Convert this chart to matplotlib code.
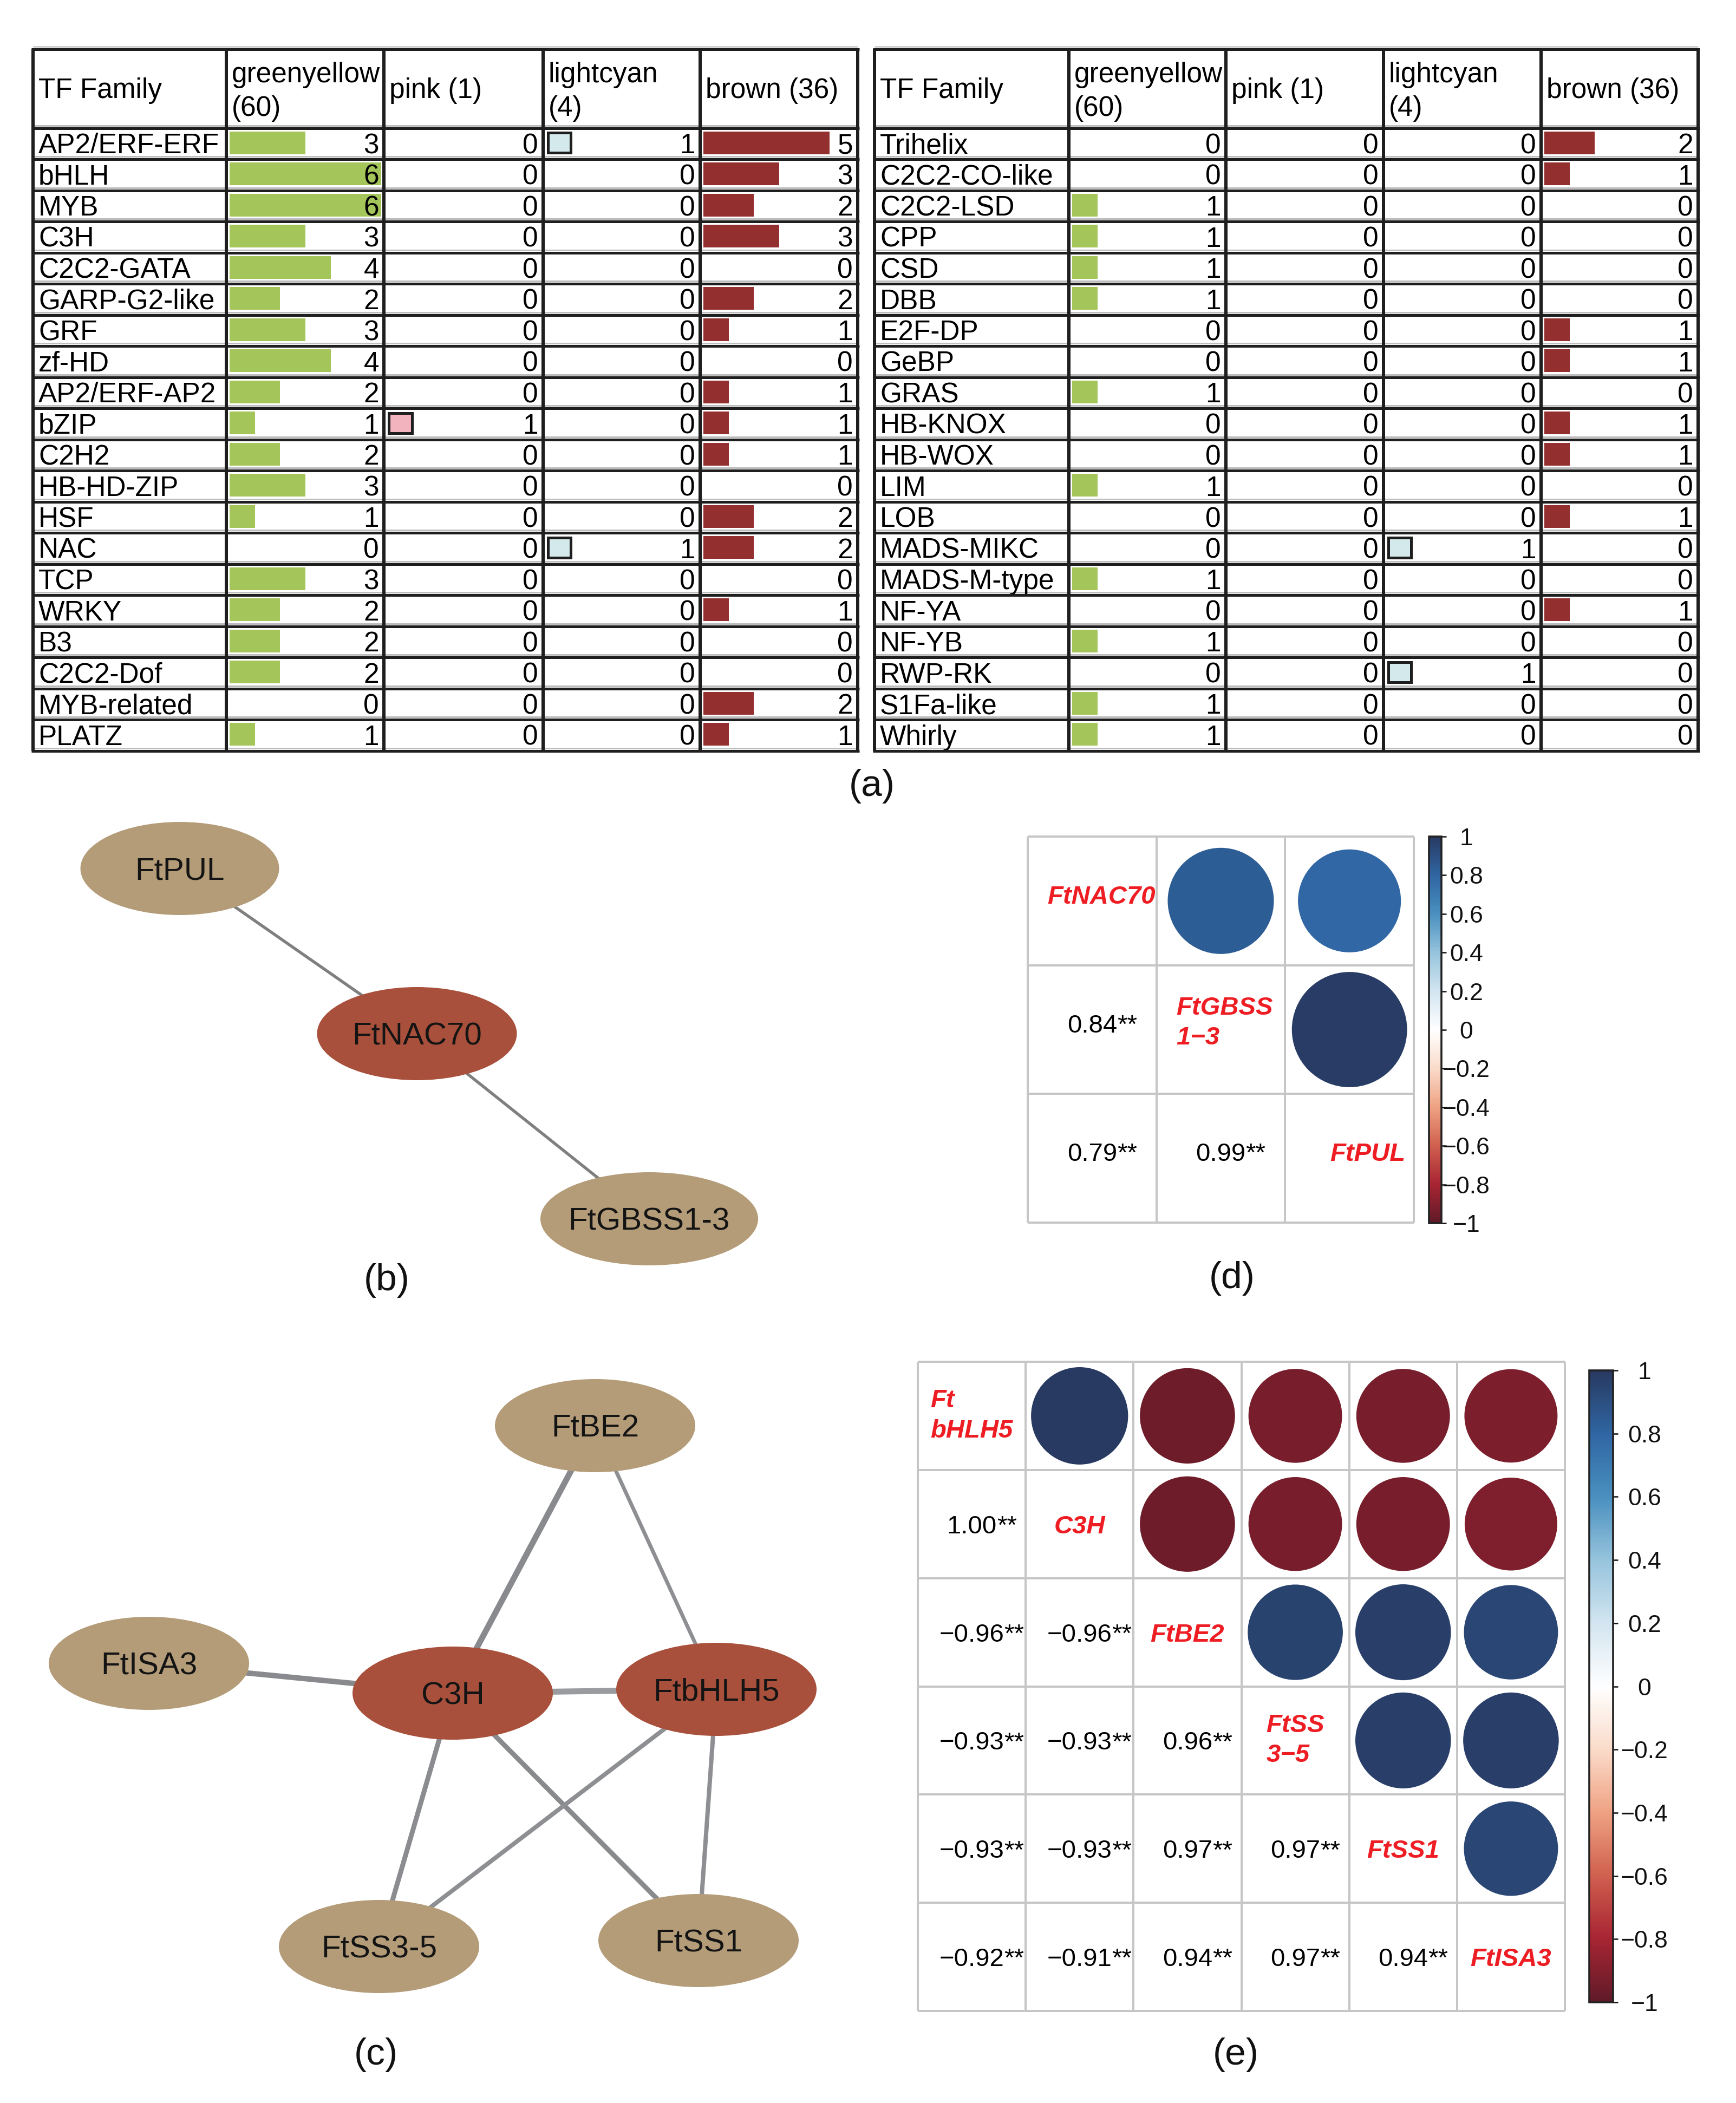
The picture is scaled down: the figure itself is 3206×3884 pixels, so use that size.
import numpy as np
import matplotlib
matplotlib.use("Agg")
import matplotlib.pyplot as plt
from matplotlib.patches import Ellipse, Circle
from matplotlib.colors import LinearSegmentedColormap, Normalize
from matplotlib.cm import ScalarMappable

plt.rcParams['font.family'] = ['Liberation Sans', 'DejaVu Sans']

# ----------------------------- data -----------------------------
table_headers = ['TF Family', 'greenyellow\n(60)', 'pink (1)', 'lightcyan\n(4)', 'brown (36)']

left_families = ['AP2/ERF-ERF', 'bHLH', 'MYB', 'C3H', 'C2C2-GATA', 'GARP-G2-like', 'GRF',
                 'zf-HD', 'AP2/ERF-AP2', 'bZIP', 'C2H2', 'HB-HD-ZIP', 'HSF', 'NAC', 'TCP',
                 'WRKY', 'B3', 'C2C2-Dof', 'MYB-related', 'PLATZ']
left_greenyellow = [3, 6, 6, 3, 4, 2, 3, 4, 2, 1, 2, 3, 1, 0, 3, 2, 2, 2, 0, 1]
left_pink        = [0, 0, 0, 0, 0, 0, 0, 0, 0, 1, 0, 0, 0, 0, 0, 0, 0, 0, 0, 0]
left_lightcyan   = [1, 0, 0, 0, 0, 0, 0, 0, 0, 0, 0, 0, 0, 1, 0, 0, 0, 0, 0, 0]
left_brown       = [5, 3, 2, 3, 0, 2, 1, 0, 1, 1, 1, 0, 2, 2, 0, 1, 0, 0, 2, 1]

right_families = ['Trihelix', 'C2C2-CO-like', 'C2C2-LSD', 'CPP', 'CSD', 'DBB', 'E2F-DP', 'GeBP',
                  'GRAS', 'HB-KNOX', 'HB-WOX', 'LIM', 'LOB', 'MADS-MIKC', 'MADS-M-type',
                  'NF-YA', 'NF-YB', 'RWP-RK', 'S1Fa-like', 'Whirly']
right_greenyellow = [0, 0, 1, 1, 1, 1, 0, 0, 1, 0, 0, 1, 0, 0, 1, 0, 1, 0, 1, 1]
right_pink        = [0, 0, 0, 0, 0, 0, 0, 0, 0, 0, 0, 0, 0, 0, 0, 0, 0, 0, 0, 0]
right_lightcyan   = [0, 0, 0, 0, 0, 0, 0, 0, 0, 0, 0, 0, 0, 1, 0, 0, 0, 1, 0, 0]
right_brown       = [2, 1, 0, 0, 0, 0, 1, 1, 0, 1, 1, 0, 1, 0, 0, 1, 0, 0, 0, 0]

net_b_nodes = ['FtPUL', 'FtNAC70', 'FtGBSS1-3']
net_b_tfs = ['FtNAC70']
net_b_edges = [('FtPUL', 'FtNAC70'), ('FtNAC70', 'FtGBSS1-3')]

net_c_nodes = ['FtBE2', 'FtISA3', 'C3H', 'FtbHLH5', 'FtSS3-5', 'FtSS1']
net_c_tfs = ['C3H', 'FtbHLH5']
net_c_edges = [('FtBE2', 'C3H'), ('FtBE2', 'FtbHLH5'), ('FtISA3', 'C3H'), ('C3H', 'FtbHLH5'),
               ('C3H', 'FtSS3-5'), ('C3H', 'FtSS1'), ('FtbHLH5', 'FtSS3-5'), ('FtbHLH5', 'FtSS1')]

corr_d_labels = ['FtNAC70', 'FtGBSS\n1\u22123', 'FtPUL']
corr_d_values = [[1.00, 0.84, 0.79],
                 [0.84, 1.00, 0.99],
                 [0.79, 0.99, 1.00]]

corr_e_labels = ['Ft\nbHLH5', 'C3H', 'FtBE2', 'FtSS\n3\u22125', 'FtSS1', 'FtISA3']
corr_e_values = [[1.00, 1.00, -0.96, -0.93, -0.93, -0.92],
                 [1.00, 1.00, -0.96, -0.93, -0.93, -0.91],
                 [-0.96, -0.96, 1.00, 0.96, 0.97, 0.94],
                 [-0.93, -0.93, 0.96, 1.00, 0.97, 0.97],
                 [-0.93, -0.93, 0.97, 0.97, 1.00, 0.94],
                 [-0.92, -0.91, 0.94, 0.97, 0.94, 1.00]]

colorbar_ticks = [-1.0, -0.8, -0.6, -0.4, -0.2, 0.0, 0.2, 0.4, 0.6, 0.8, 1.0]

# ----------------------------- style / layout -----------------------------
W, H = 3206, 3884
DPI = 200
PT = 72.0 / DPI              # points per pixel
FS_TAB = 18.5
FS_NODE = 21
FS_CORR = 17
FS_CB = 16
FS_PANEL = 25

def px(pt):
    return pt / PT

GREEN = '#A3C55A'
BROWN = '#942F2F'
PINK = '#F2B3BF'
LCYAN = '#D3E9EC'
TAN = '#B49C79'
TFRED = '#A8503B'
LABRED = '#EE1D23'
LINE = '#1E1E1E'

corr_cmap = LinearSegmentedColormap.from_list(
    'corr', ['#601A28', '#A82533', '#D0604F', '#EFA283', '#FADBCA', '#FFFFFF',
             '#D3E5F0', '#96C4DD', '#4A90BF', '#2F66A3', '#283A62'], N=256)
corr_norm = Normalize(-1, 1)

fig = plt.figure(figsize=(W / DPI, H / DPI), dpi=DPI)
canvas = fig.add_axes([0, 0, 1, 1])
canvas.set_xlim(0, W)
canvas.set_ylim(H, 0)
canvas.axis('off')


def px_rect(x0, y0, x1, y1):
    return [x0 / W, 1 - y1 / H, (x1 - x0) / W, (y1 - y0) / H]


# ----------------------------- tables (a) -----------------------------
TAB_TOP, TAB_HEAD, ROW_H = 91, 237, 57.5


def draw_table(ax, col_edges, families, columns):
    n = len(families)
    row_tops = TAB_HEAD + ROW_H * np.arange(n)
    y_bot = TAB_HEAD + ROW_H * n
    cap = 0.358 * px(FS_TAB)
    fills = [GREEN, PINK, LCYAN, BROWN]
    boxed = [False, True, True, False]
    for k, vals in enumerate(columns):
        cl, cr = col_edges[k + 1], col_edges[k + 2]
        unit = (cr - cl - 11) / 6.0
        v = np.asarray(vals, float)
        m = v > 0
        if boxed[k]:
            ax.barh(row_tops[m] + 27, v[m] * unit - 4, left=cl + 8.5, height=37,
                    color=fills[k], edgecolor=LINE, linewidth=5 * PT, zorder=2)
        else:
            ax.barh(row_tops[m] + 27, v[m] * unit, left=cl + 6, height=42,
                    color=fills[k], linewidth=0, zorder=2)
        for rt, val in zip(row_tops, vals):
            ax.text(cr - 9, rt + ROW_H / 2 + cap - 1, str(val), ha='right', va='baseline',
                    fontsize=FS_TAB, zorder=4)
    for rt, fam in zip(row_tops, families):
        ax.text(col_edges[0] + 10, rt + ROW_H / 2 + cap - 1, fam, ha='left', va='baseline',
                fontsize=FS_TAB, zorder=4)
    for k, hdr in enumerate(table_headers):
        lines = hdr.split('\n')
        bases = [181] if len(lines) == 1 else [152, 214]
        for ln, b in zip(lines, bases):
            ax.text(col_edges[k] + 10, b, ln, ha='left', va='baseline', fontsize=FS_TAB, zorder=4)
    hys = [TAB_TOP, TAB_HEAD] + list(row_tops[1:]) + [y_bot]
    ax.hlines([TAB_TOP - 5], col_edges[0], col_edges[-1], colors='#CFCFCF', lw=3 * PT, zorder=3)
    ax.hlines(np.array(hys[1:]) - 5, col_edges[0], col_edges[-1], colors='#BDBDBD',
              lw=3 * PT, zorder=3)
    ax.hlines(hys, col_edges[0] - 3, col_edges[-1] + 3, colors=LINE, lw=5 * PT, zorder=5)
    ax.vlines(col_edges, TAB_TOP, y_bot, colors=LINE, lw=6 * PT, zorder=5)


draw_table(canvas, [61, 418, 709, 1003, 1293, 1584], left_families,
           [left_greenyellow, left_pink, left_lightcyan, left_brown])
draw_table(canvas, [1615, 1974, 2264, 2555, 2846, 3136], right_families,
           [right_greenyellow, right_pink, right_lightcyan, right_brown])

# ----------------------------- networks (b), (c) -----------------------------
def draw_network(ax, nodes, tfs, edges, pos, sizes, edge_w, edge_c):
    for (a, b), w, c in zip(edges, edge_w, edge_c):
        ax.plot([pos[a][0], pos[b][0]], [pos[a][1], pos[b][1]], color=c, lw=w * PT,
                zorder=1, solid_capstyle='butt')
    cap = 0.358 * px(FS_NODE)
    for nd in nodes:
        w, h = sizes[nd]
        ax.add_patch(Ellipse(pos[nd], w, h, facecolor=TFRED if nd in tfs else TAN,
                             edgecolor='none', zorder=2))
        ax.text(pos[nd][0], pos[nd][1] + cap, nd, ha='center', va='baseline',
                fontsize=FS_NODE, color='#141414', zorder=3)


pos_b = {'FtPUL': (332, 1604), 'FtNAC70': (770, 1909), 'FtGBSS1-3': (1199, 2251)}
size_b = {'FtPUL': (367, 172), 'FtNAC70': (369, 172), 'FtGBSS1-3': (402, 172)}
draw_network(canvas, net_b_nodes, net_b_tfs, net_b_edges, pos_b, size_b,
             [5.5, 5.5], ['#7F7F7F', '#7F7F7F'])

pos_c = {'FtBE2': (1099, 2633), 'FtISA3': (275, 3072), 'C3H': (836, 3127),
         'FtbHLH5': (1323, 3120), 'FtSS3-5': (700, 3595), 'FtSS1': (1290, 3584)}
size_c = {k: (370, 172) for k in pos_c}
draw_network(canvas, net_c_nodes, net_c_tfs, net_c_edges, pos_c, size_c,
             [11, 7, 10, 11, 9, 9, 8, 8],
             ['#898A8D', '#8E8F92', '#898A8D', '#9A9B9E', '#8B8C8F', '#898A8D',
              '#8E8F92', '#8E8F92'])

# ----------------------------- correlation plots (d), (e) -----------------------------
def fmt_tick(t):
    t = round(t, 1)
    if t == 0:
        return '0'
    s = '%d' % t if abs(t) == 1 else '%.1f' % t
    return s.replace('-', '\u2212')


def draw_corr(grid_px, labels, mat, cbar_px, cb_offset_px, dy=0.0, label_dx=None):
    n = len(labels)
    ax = fig.add_axes(px_rect(*grid_px))
    ax.set_xlim(0, n)
    ax.set_ylim(n, 0)
    ax.axis('off')
    cell = (grid_px[2] - grid_px[0]) / n
    cap = 0.358 * px(FS_CORR) / cell
    if label_dx is None:
        label_dx = [0.0] * n
    for i in range(n):
        for j in range(n):
            v = mat[i][j]
            if j > i:
                ax.add_patch(Circle((j + 0.5, i + 0.5), 0.45 * np.sqrt(abs(v)),
                                    facecolor=corr_cmap(corr_norm(v)), edgecolor='none',
                                    zorder=2))
            elif j < i:
                s = ('%.2f' % v).replace('-', '\u2212')
                t = ax.text(j + 0.5, i + 0.5 + dy + cap, s, ha='center', va='baseline',
                            fontsize=FS_CORR, zorder=3)
                ax.annotate('**', xy=(1, 0), xycoords=t, ha='left', va='bottom',
                            fontsize=FS_CORR, zorder=3)
            else:
                lab = labels[i]
                if '\n' in lab:
                    ax.text(j + 0.5 + label_dx[i], i + 0.5 + dy, lab, ha='center', va='center',
                            multialignment='left', fontsize=FS_CORR, fontweight='bold',
                            fontstyle='italic', color=LABRED, linespacing=1.33, zorder=3)
                else:
                    ax.text(j + 0.5 + label_dx[i], i + 0.5 + dy + cap, lab, ha='center',
                            va='baseline', fontsize=FS_CORR, fontweight='bold',
                            fontstyle='italic', color=LABRED, zorder=3)
    ax.hlines(np.arange(n + 1), 0, n, colors='#C6C6C6', lw=4 * PT, zorder=4, clip_on=False)
    ax.vlines(np.arange(n + 1), 0, n, colors='#C6C6C6', lw=4 * PT, zorder=4, clip_on=False)

    cax = fig.add_axes(px_rect(*cbar_px))
    cb = fig.colorbar(ScalarMappable(norm=corr_norm, cmap=corr_cmap), cax=cax)
    cb.set_ticks(colorbar_ticks, labels=[fmt_tick(t) for t in colorbar_ticks], ha='center')
    ticklen = 3.2
    cax.tick_params(axis='y', direction='out', length=ticklen, width=0.9, labelsize=FS_CB,
                    pad=cb_offset_px * PT - ticklen, colors='#111111')
    cb.outline.set_linewidth(1.3)
    cb.outline.set_edgecolor('#222222')


draw_corr((1898, 1545, 2611, 2258), corr_d_labels, corr_d_values,
          (2639, 1545, 2662, 2259), 46, dy=-0.05, label_dx=[0.07, 0.03, 0.14])
draw_corr((1695, 2515, 2890, 3714), corr_e_labels, corr_e_values,
          (2935, 2531, 2979, 3698), 58)

# ----------------------------- panel labels -----------------------------
for s, (x, y) in zip(['(a)', '(b)', '(c)', '(d)', '(e)'],
                     [(1610, 1452), (714, 2365), (694, 3795), (2275, 2361), (2282, 3795)]):
    canvas.text(x, y, s, ha='center', va='center', fontsize=FS_PANEL, color='#111111')

fig.savefig('out.png', dpi=DPI)
